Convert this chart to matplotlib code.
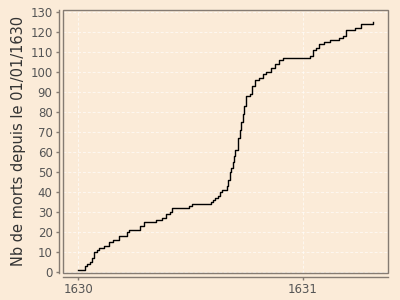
import matplotlib
matplotlib.use("Agg")
import matplotlib.pyplot as plt
from matplotlib.patches import Rectangle

# Date of each step (fractional year) and cumulative deaths after it
dates = [1630.000, 1630.030, 1630.040, 1630.052, 1630.061, 1630.070, 1630.082,
         1630.093, 1630.114, 1630.135, 1630.156, 1630.182, 1630.215, 1630.225,
         1630.274, 1630.292, 1630.348, 1630.371, 1630.390, 1630.408, 1630.418,
         1630.493, 1630.508, 1630.593, 1630.601, 1630.608, 1630.622, 1630.632,
         1630.640, 1630.660, 1630.668, 1630.674, 1630.681, 1630.689, 1630.694,
         1630.700, 1630.711, 1630.719, 1630.726, 1630.732, 1630.738, 1630.748,
         1630.766, 1630.775, 1630.785, 1630.804, 1630.822, 1630.837, 1630.856,
         1630.874, 1630.893, 1630.911, 1631.030, 1631.044, 1631.060, 1631.074,
         1631.092, 1631.119, 1631.160, 1631.178, 1631.193, 1631.234, 1631.260,
         1631.311]
deaths = [1, 3, 4, 5, 7, 10, 11,
          12, 13, 15, 16, 18, 20, 21,
          23, 25, 26, 27, 29, 30, 32,
          33, 34, 35, 36, 37, 38, 40,
          41, 43, 46, 50, 52, 55, 58,
          61, 67, 71, 75, 79, 83, 88,
          89, 93, 96, 97, 99, 100, 102,
          104, 106, 107, 108, 111, 112, 114,
          115, 116, 117, 118, 121, 122, 124,
          125]

x_ticks = [1630, 1631]
x_tick_labels = ["1630", "1631"]
y_ticks = list(range(0, 131, 10))
y_label = "Nb de morts depuis le 01/01/1630"

bg = "#FBEBD8"
spine_col = "#857b72"

fig = plt.figure(figsize=(4, 3), dpi=100, facecolor=bg)
ax = fig.add_axes([63/400, 1 - 272.5/300, (388 - 63)/400, (272.5 - 10)/300])
ax.set_facecolor(bg)

ax.step(dates, deaths, where="post", color="black", lw=1.0)

ax.set_xlim(1629.932, 1631.379)
ax.set_ylim(-0.5, 131.1)
ax.set_xticks(x_ticks)
ax.set_xticklabels(x_tick_labels)
ax.set_yticks(y_ticks)

ax.grid(True, color="white", linestyle=(0, (3, 2)), lw=0.7, alpha=0.65)
ax.set_axisbelow(True)

for s in ["top", "right"]:
    ax.spines[s].set_visible(False)
for s in ["left", "bottom"]:
    ax.spines[s].set_position(("outward", 3))
    ax.spines[s].set_color(spine_col)
    ax.spines[s].set_linewidth(1.0)

ax.add_patch(Rectangle((0, 0), 1, 1, transform=ax.transAxes, fill=False,
                       edgecolor=spine_col, lw=1.0, clip_on=False, zorder=5))

ax.tick_params(axis="both", colors=spine_col, length=2.5, width=1.0,
               labelsize=8.5, labelcolor="#555555", pad=2)
ax.set_ylabel(y_label, fontsize=10.5, color="#333333", labelpad=3)

fig.savefig("out.png", dpi=100, facecolor=bg)
